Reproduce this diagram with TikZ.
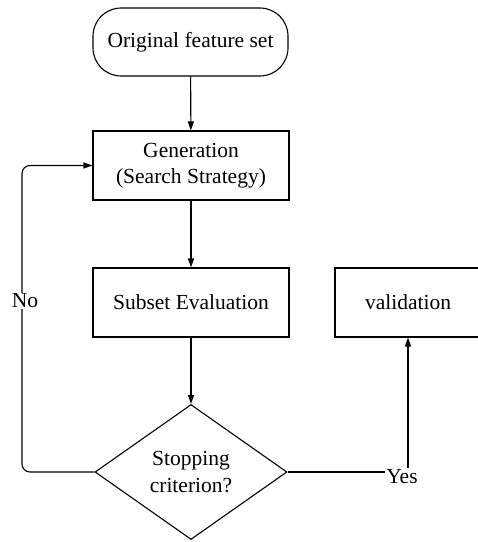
\documentclass[tikz,border=0pt]{standalone}
\usepackage{fontspec}
\setmainfont{Liberation Serif}
\usetikzlibrary{shapes.geometric,arrows.meta}
\begin{document}
\begin{tikzpicture}[x=1pt,y=-1pt,line width=1.1pt,
  txt/.style={font=\fontsize{21.5}{26.5}\selectfont},
  box/.style={txt,draw,minimum width=196pt,minimum height=69pt,inner sep=0pt,align=center},
  startbox/.style={box,rounded corners=28pt,minimum width=195pt,minimum height=68pt},
  decision/.style={txt,draw,diamond,minimum width=192pt,minimum height=135pt,inner sep=0pt,align=center},
  arr/.style={-{Triangle[length=9pt,width=6pt]}},
  lbl/.style={txt,fill=white,inner sep=1pt}]
\useasboundingbox (0,0) rectangle (478,542);
\node[startbox] (orig) at (190.5,42) {Original feature set};
\node[box] (gen) at (191,165.5) {Generation\\(Search Strategy)};
\node[box] (eval) at (191,302.5) {Subset Evaluation};
\node[box,minimum width=146pt] (val) at (408,302.5) {validation};
\node[decision] (dec) at (191,472) {Stopping\\criterion?};
\node[txt,inner sep=1pt] (yes) at (402,477) {Yes};
\coordinate (loop) at (22,165.5);
\draw[arr] (orig) -- (gen);
\draw[arr] (gen) -- (eval);
\draw[arr] (eval) -- (dec);
\draw (dec.east) -- (dec.east -| yes.west);
\draw[arr] (yes.north -| val.south) -- (val.south);
\draw[arr,rounded corners=8pt] (dec.west) -| (loop) -- (gen.west);
\node[lbl] (no) at (25,301) {No};
\end{tikzpicture}
\end{document}
